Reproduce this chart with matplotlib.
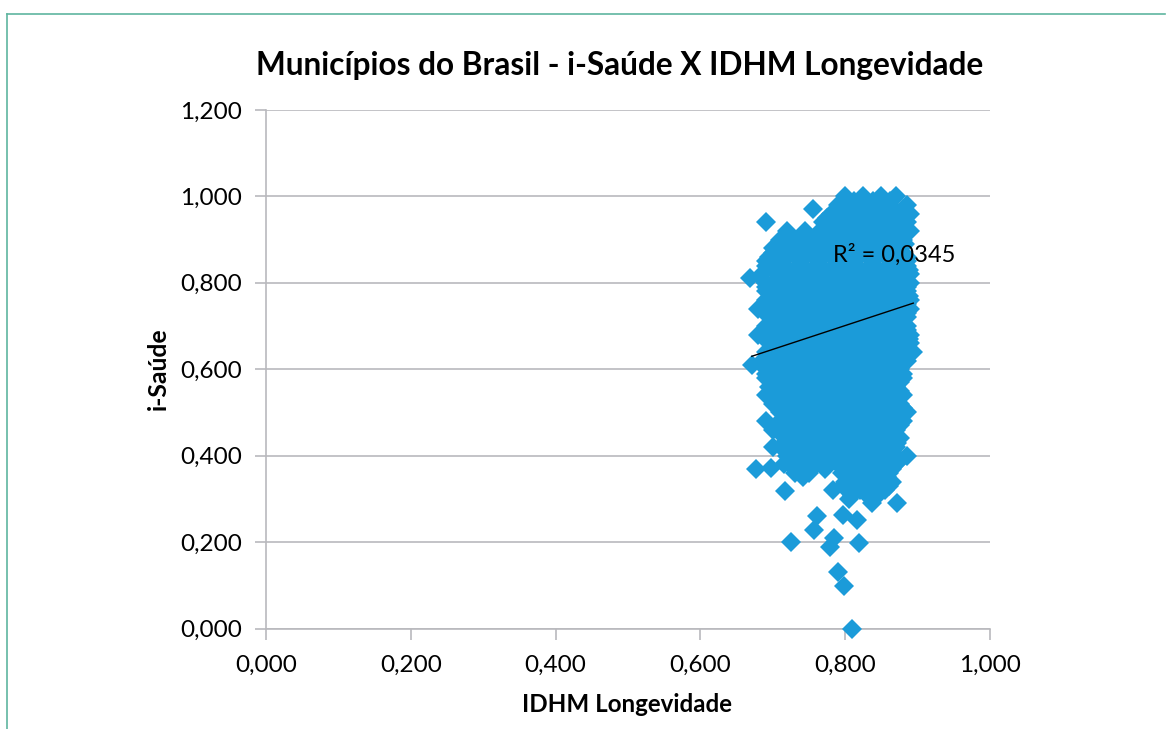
import matplotlib
matplotlib.use("Agg")
import matplotlib.pyplot as plt
from matplotlib.lines import Line2D

plt.rcParams['font.family'] = ['Lato', 'DejaVu Sans']

# each row of the cloud: one y level and the x values read at that level
row_y = [1.00, 0.98, 0.96, 0.94, 0.92, 0.90, 0.88, 0.86, 0.84, 0.82,
         0.80, 0.78, 0.76, 0.74, 0.72, 0.70, 0.68, 0.66, 0.64, 0.62,
         0.60, 0.58, 0.56, 0.54, 0.52, 0.50, 0.48, 0.46, 0.44, 0.42,
         0.40, 0.38, 0.36, 0.34, 0.32]
row_x = [
    [0.80, 0.825, 0.85, 0.87],
    [0.79, 0.812, 0.838, 0.862, 0.885],
    [0.78, 0.80, 0.825, 0.85, 0.875, 0.89],
    [0.77, 0.79, 0.812, 0.838, 0.862, 0.885],
    [0.72, 0.745, 0.765, 0.79, 0.815, 0.84, 0.865, 0.89],
    [0.71, 0.735, 0.76, 0.785, 0.81, 0.835, 0.86, 0.88],
    [0.70, 0.725, 0.75, 0.775, 0.80, 0.825, 0.85, 0.875],
    [0.695, 0.715, 0.74, 0.765, 0.79, 0.815, 0.84, 0.865, 0.885],
    [0.69, 0.71, 0.735, 0.76, 0.785, 0.81, 0.835, 0.86, 0.885],
    [0.685, 0.715, 0.74, 0.765, 0.79, 0.815, 0.84, 0.865, 0.89],
    [0.69, 0.70, 0.725, 0.75, 0.775, 0.80, 0.825, 0.85, 0.875, 0.89],
    [0.69, 0.715, 0.74, 0.765, 0.79, 0.815, 0.84, 0.865, 0.885],
    [0.69, 0.70, 0.725, 0.75, 0.775, 0.80, 0.825, 0.85, 0.875, 0.89],
    [0.68, 0.705, 0.73, 0.755, 0.78, 0.805, 0.83, 0.855, 0.88, 0.89],
    [0.695, 0.72, 0.745, 0.77, 0.795, 0.82, 0.845, 0.87, 0.885],
    [0.69, 0.71, 0.735, 0.76, 0.785, 0.81, 0.835, 0.86, 0.885],
    [0.68, 0.70, 0.725, 0.75, 0.775, 0.80, 0.825, 0.85, 0.875, 0.89],
    [0.695, 0.715, 0.74, 0.765, 0.79, 0.815, 0.84, 0.865, 0.89],
    [0.69, 0.71, 0.735, 0.76, 0.785, 0.81, 0.835, 0.86, 0.88, 0.893],
    [0.685, 0.715, 0.74, 0.765, 0.79, 0.815, 0.84, 0.865, 0.885],
    [0.69, 0.70, 0.725, 0.75, 0.775, 0.80, 0.825, 0.85, 0.875],
    [0.69, 0.715, 0.74, 0.765, 0.79, 0.815, 0.84, 0.865, 0.88],
    [0.695, 0.72, 0.745, 0.77, 0.795, 0.82, 0.845, 0.87],
    [0.69, 0.71, 0.735, 0.76, 0.785, 0.81, 0.835, 0.86, 0.88],
    [0.70, 0.725, 0.75, 0.775, 0.80, 0.825, 0.85, 0.875],
    [0.71, 0.735, 0.76, 0.785, 0.81, 0.835, 0.86, 0.885],
    [0.69, 0.715, 0.74, 0.765, 0.79, 0.815, 0.84, 0.865, 0.88],
    [0.70, 0.725, 0.75, 0.775, 0.80, 0.825, 0.85, 0.87],
    [0.725, 0.75, 0.775, 0.80, 0.825, 0.85, 0.875],
    [0.70, 0.73, 0.755, 0.78, 0.805, 0.83, 0.855, 0.87],
    [0.72, 0.745, 0.77, 0.795, 0.82, 0.845, 0.865, 0.885],
    [0.715, 0.735, 0.76, 0.79, 0.81, 0.835, 0.855, 0.87],
    [0.73, 0.75, 0.795, 0.82, 0.84, 0.86],
    [0.80, 0.815, 0.83, 0.85, 0.865],
    [0.805, 0.82, 0.84, 0.855],
]

# points in between those rows, so the cloud closes up as in the picture
mid_y = [0.99, 0.97, 0.95, 0.93, 0.91, 0.89, 0.87, 0.85, 0.83, 0.81,
         0.79, 0.77, 0.75, 0.73, 0.71, 0.69, 0.67, 0.65, 0.63, 0.61,
         0.59, 0.57, 0.55, 0.53, 0.51, 0.49, 0.47, 0.45, 0.43, 0.41,
         0.39, 0.37, 0.35, 0.33, 0.31]
mid_x = [
    [0.812, 0.838, 0.862],
    [0.79, 0.812, 0.838, 0.862, 0.88],
    [0.775, 0.80, 0.825, 0.85, 0.875],
    [0.78, 0.80, 0.825, 0.85, 0.875],
    [0.722, 0.747, 0.772, 0.797, 0.822, 0.847, 0.872],
    [0.71, 0.735, 0.76, 0.785, 0.81, 0.835, 0.86, 0.882],
    [0.70, 0.725, 0.75, 0.775, 0.80, 0.825, 0.85, 0.875],
    [0.69, 0.712, 0.737, 0.762, 0.787, 0.812, 0.837, 0.862, 0.885],
    [0.70, 0.722, 0.747, 0.772, 0.797, 0.822, 0.847, 0.872, 0.888],
    [0.685, 0.71, 0.735, 0.76, 0.785, 0.81, 0.835, 0.86, 0.88],
    [0.69, 0.712, 0.737, 0.762, 0.787, 0.812, 0.837, 0.862, 0.885],
    [0.70, 0.722, 0.747, 0.772, 0.797, 0.822, 0.847, 0.872, 0.888],
    [0.692, 0.712, 0.737, 0.762, 0.787, 0.812, 0.837, 0.862, 0.885],
    [0.695, 0.717, 0.742, 0.767, 0.792, 0.817, 0.842, 0.867, 0.885],
    [0.705, 0.73, 0.755, 0.78, 0.805, 0.83, 0.855, 0.878],
    [0.695, 0.715, 0.74, 0.765, 0.79, 0.815, 0.84, 0.865, 0.885],
    [0.70, 0.722, 0.747, 0.772, 0.797, 0.822, 0.847, 0.872, 0.888],
    [0.705, 0.727, 0.752, 0.777, 0.802, 0.827, 0.852, 0.877],
    [0.70, 0.722, 0.747, 0.772, 0.797, 0.822, 0.847, 0.872],
    [0.695, 0.727, 0.752, 0.777, 0.802, 0.827, 0.852, 0.877],
    [0.69, 0.712, 0.737, 0.762, 0.787, 0.812, 0.837, 0.862, 0.88],
    [0.70, 0.727, 0.752, 0.777, 0.802, 0.827, 0.852, 0.875],
    [0.705, 0.732, 0.757, 0.782, 0.807, 0.832, 0.857, 0.875],
    [0.70, 0.722, 0.747, 0.772, 0.797, 0.822, 0.847, 0.87],
    [0.712, 0.737, 0.762, 0.787, 0.812, 0.837, 0.862, 0.88],
    [0.72, 0.747, 0.772, 0.797, 0.822, 0.847, 0.872],
    [0.705, 0.727, 0.752, 0.777, 0.802, 0.827, 0.852, 0.875],
    [0.712, 0.737, 0.762, 0.787, 0.812, 0.837, 0.862],
    [0.715, 0.737, 0.762, 0.787, 0.812, 0.837, 0.862, 0.872],
    [0.717, 0.742, 0.767, 0.792, 0.817, 0.842, 0.865],
    [0.73, 0.757, 0.782, 0.807, 0.832, 0.857, 0.875],
    [0.73, 0.75, 0.772, 0.80, 0.825, 0.847, 0.865],
    [0.742, 0.805, 0.825, 0.845, 0.858],
    [0.797, 0.812, 0.83, 0.848, 0.86],
    [0.81, 0.83, 0.845],
]

# isolated points around the cloud
stray_x = [0.690, 0.755, 0.677, 0.698, 0.717, 0.761, 0.757, 0.725, 0.785, 0.779,
           0.790, 0.798, 0.810, 0.819, 0.816, 0.797, 0.871, 0.837, 0.783, 0.805,
           0.668, 0.671]
stray_y = [0.940, 0.970, 0.369, 0.371, 0.318, 0.260, 0.228, 0.200, 0.210, 0.189,
           0.130, 0.099, 0.000, 0.198, 0.250, 0.263, 0.290, 0.290, 0.320, 0.300,
           0.811, 0.610]

trend_x = [0.671, 0.894]
trend_y = [0.630, 0.753]

x_ticks = [0.0, 0.2, 0.4, 0.6, 0.8, 1.0]
y_ticks = [0.0, 0.2, 0.4, 0.6, 0.8, 1.0, 1.2]

W, H = 1168, 729
fig = plt.figure(figsize=(W / 100, H / 100), dpi=100)
ax = fig.add_axes([266 / W, 1 - 628.5 / H, 724 / W, 518.5 / H])

grey = '#b9b9bd'
blue = '#1b9bd9'

xs = []
ys = []
for y, row in zip(row_y + mid_y, row_x + mid_x):
    for x in row:
        xs.append(x)
        ys.append(y)
xs += stray_x
ys += stray_y

ax.plot(xs, ys, linestyle='none', marker='D', markersize=9.7, color=blue,
        markeredgewidth=0, clip_on=False, zorder=3)
ax.plot(trend_x, trend_y, color='black', linewidth=1.0, zorder=4)
ax.text(0.783, 0.866, 'R² = 0,0345', fontsize=17, color='black', va='center', zorder=5)

ax.set_xlim(0, 1)
ax.set_ylim(0, 1.2)
ax.set_xticks(x_ticks)
ax.set_yticks(y_ticks)
ax.set_xticklabels([f'{v:.3f}'.replace('.', ',') for v in x_ticks])
ax.set_yticklabels([f'{v:.3f}'.replace('.', ',') for v in y_ticks])
ax.tick_params(axis='both', labelsize=17.5, color=grey, width=1.2, length=8)
ax.tick_params(axis='x', pad=11)
ax.tick_params(axis='y', pad=9)

ax.grid(True, axis='y', color=grey, linewidth=1.2)
ax.set_axisbelow(True)
for side in ['top', 'right']:
    ax.spines[side].set_visible(False)
for side in ['left', 'bottom']:
    ax.spines[side].set_color(grey)
    ax.spines[side].set_linewidth(1.2)

fig.text(620 / W, 1 - 65 / H, 'Municípios do Brasil - i-Saúde X IDHM Longevidade',
         fontsize=22.8, fontweight='bold', ha='center', va='center')
fig.text(627 / W, 1 - 704 / H, 'IDHM Longevidade', fontsize=17.4, fontweight='bold',
         ha='center', va='center')
fig.text(158 / W, 1 - 369 / H, 'i-Saúde', fontsize=17.8, fontweight='bold',
         rotation=90, ha='center', va='center')

# teal frame of the page
frame = '#5fb5a0'
fig.add_artist(Line2D([7 / W, 7 / W], [0, 1 - 14 / H], color=frame, linewidth=1.2))
fig.add_artist(Line2D([7 / W, 1165 / W], [1 - 14 / H, 1 - 14 / H], color=frame, linewidth=1.2))

fig.savefig('out.png', dpi=100)
